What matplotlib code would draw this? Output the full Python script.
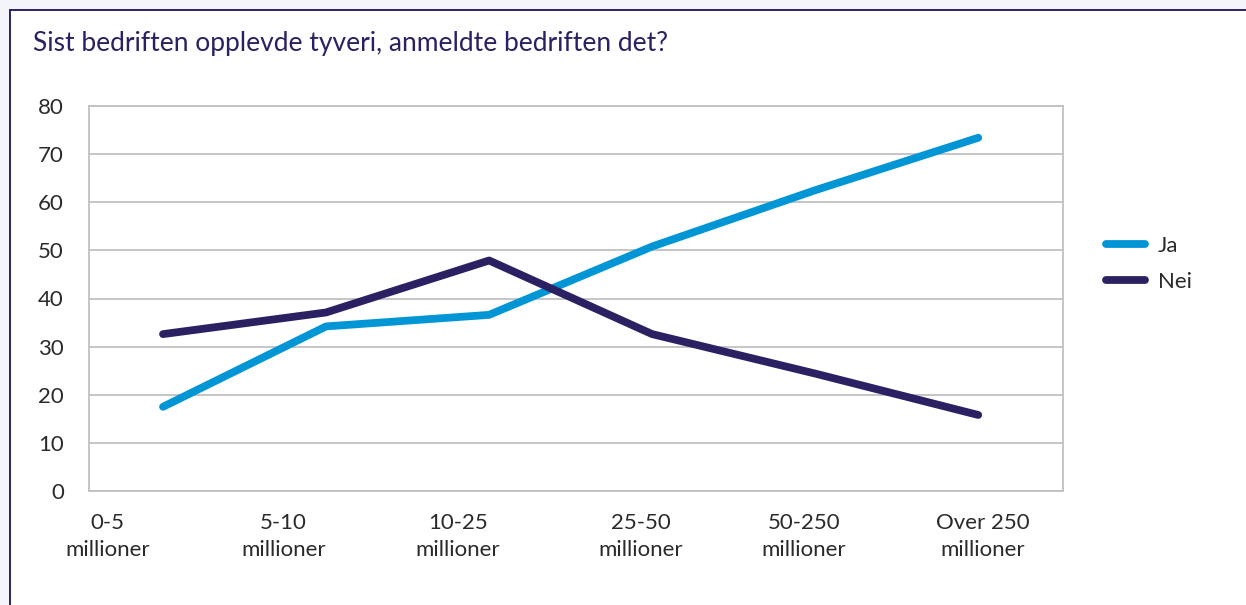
import matplotlib.pyplot as plt
from matplotlib.patches import Rectangle

# data
categories = ["0-5\nmillioner", "5-10\nmillioner", "10-25\nmillioner",
              "25-50\nmillioner", "50-250\nmillioner", "Over 250\nmillioner"]
ja = [17.5, 34.2, 36.6, 50.8, 62.5, 73.4]
nei = [32.6, 37.1, 47.9, 32.6, 24.4, 15.8]
yticks = [0, 10, 20, 30, 40, 50, 60, 70, 80]

# tick labels sit a little off the data points in the original
label_pos = [-0.34, 0.74, 1.81, 2.93, 3.93, 5.03]

navy = "#2b2162"
blue = "#0096d6"
text_col = "#2a2a2a"

plt.rcParams['font.family'] = ['Lato', 'DejaVu Sans']

fig = plt.figure(figsize=(12.46, 6.05), dpi=100)
fig.patch.set_facecolor("#f3f5fa")
# white panel with navy top/left border
fig.patches.append(Rectangle((10 / 1246, -0.1), 1.1, 1 - 10 / 605 + 0.1,
                             transform=fig.transFigure, facecolor="white",
                             edgecolor=navy, linewidth=1.4, zorder=-1))

fig.text(33 / 1246, 1 - 44 / 605, "Sist bedriften opplevde tyveri, anmeldte bedriften det?",
         fontsize=19, color=navy, va="center", ha="left")

ax = fig.add_axes([89 / 1246, 1 - 491 / 605, (1063 - 89) / 1246, (491 - 106) / 605])
ax.set_zorder(1)
ax.set_facecolor("white")
x = range(len(categories))
ax.plot(x, ja, color=blue, lw=5.6, solid_capstyle="round", solid_joinstyle="round", label="Ja")
ax.plot(x, nei, color=navy, lw=5.6, solid_capstyle="round", solid_joinstyle="round", label="Nei")

ax.set_xlim(-0.454, 5.52)
ax.set_ylim(0, 80)
ax.set_yticks(yticks)
ax.set_yticklabels([str(v) for v in yticks], fontsize=16, color=text_col)
ax.set_xticks(label_pos)
ax.set_xticklabels(categories, fontsize=16, color=text_col, linespacing=1.45)
ax.tick_params(axis="both", length=0)
ax.tick_params(axis="y", pad=18)
ax.tick_params(axis="x", pad=16)
ax.grid(axis="y", color="#c0c0c0", lw=1.3)
ax.set_axisbelow(True)
for s in ax.spines.values():
    s.set_color("#c0c0c0")
    s.set_linewidth(1.3)

fig.legend(loc="center left", bbox_to_anchor=(1086 / 1246, 1 - 264 / 605), frameon=False,
           fontsize=16, handlelength=1.75, labelspacing=0.7, handletextpad=0.6,
           labelcolor=text_col)

fig.savefig("out.png", dpi=100, facecolor=fig.get_facecolor())
